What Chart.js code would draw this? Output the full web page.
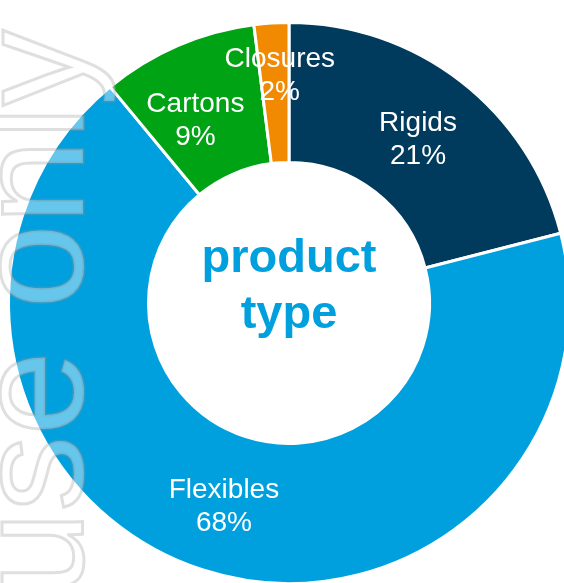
<!DOCTYPE html>
<html>
<head>
<meta charset="utf-8">
<title>product type</title>
<script src="https://cdn.jsdelivr.net/npm/chart.js@4.4.1/dist/chart.umd.min.js"></script>
<style>
    html, body { margin: 0; padding: 0; background: #fff; overflow: hidden; width: 564px; height: 583px; }
    #wrap { position: relative; width: 564px; height: 583px; overflow: hidden; }
    #donut { position: absolute; left: -11px; top: 3px; }
</style>
</head>
<body>
<div id="wrap"><canvas id="donut" width="600" height="600"></canvas></div>
<script>
// --- Data ---
const categories = ['Rigids', 'Flexibles', 'Cartons', 'Closures'];
const shares = [21, 68, 9, 2];
const segmentColors = ['#003a5d', '#00a0df', '#00a314', '#f18a00'];
const centerLines = ['product', 'type'];
const watermark = 'use only';

// small hand nudges for labels that were moved in the original
const labelNudge = { Cartons: [-10, 7], Closures: [4, -21] };

// --- Plugins ---
const labelPlugin = {
    id: 'sliceLabels',
    afterDatasetsDraw(chart) {
        const ctx = chart.ctx;
        const meta = chart.getDatasetMeta(0);
        ctx.save();
        ctx.fillStyle = '#fff';
        ctx.font = '28px "Liberation Sans", Arial, sans-serif';
        ctx.textAlign = 'center';
        ctx.textBaseline = 'middle';
        meta.data.forEach((arc, i) => {
            const p = arc.tooltipPosition();
            const name = categories[i];
            const n = labelNudge[name] || [0, 0];
            const x = p.x + n[0];
            const y = p.y + n[1] + 3;
            ctx.fillText(name, x, y - 16);
            ctx.fillText(shares[i] + '%', x, y + 17);
        });

        // center title
        const c = meta.data[0];
        ctx.fillStyle = '#00a0df';
        ctx.font = 'bold 47px "Liberation Sans", Arial, sans-serif';
        ctx.fillText(centerLines[0], c.x, c.y - 44);
        ctx.fillText(centerLines[1], c.x, c.y + 12);
        ctx.restore();
    },
    afterDraw(chart) {
        // outlined watermark on the left, reading bottom to top
        const ctx = chart.ctx;
        const c = chart.getDatasetMeta(0).data[0];
        ctx.save();
        ctx.translate(c.x - 206, c.y + 10);
        ctx.rotate(-Math.PI / 2);
        ctx.font = '152px "Liberation Sans", Arial, sans-serif';
        ctx.textAlign = 'center';
        ctx.textBaseline = 'alphabetic';
        ctx.fillStyle = 'rgba(255, 255, 255, 0.4)';
        ctx.fillText(watermark, 0, 0);
        ctx.lineWidth = 3;
        ctx.strokeStyle = 'rgba(150, 150, 150, 0.3)';
        ctx.strokeText(watermark, 0, 0);
        ctx.restore();
    }
};

// --- Chart ---
new Chart(document.getElementById('donut'), {
    type: 'doughnut',
    data: {
        labels: categories,
        datasets: [{
            data: shares,
            backgroundColor: segmentColors,
            borderColor: '#fff',
            borderWidth: 3
        }]
    },
    options: {
        responsive: false,
        animation: false,
        events: [],
        radius: 280.5,
        cutout: '50.1%',
        layout: { padding: 0 },
        plugins: {
            legend: { display: false },
            tooltip: { enabled: false }
        }
    },
    plugins: [labelPlugin]
});
</script>
</body>
</html>
